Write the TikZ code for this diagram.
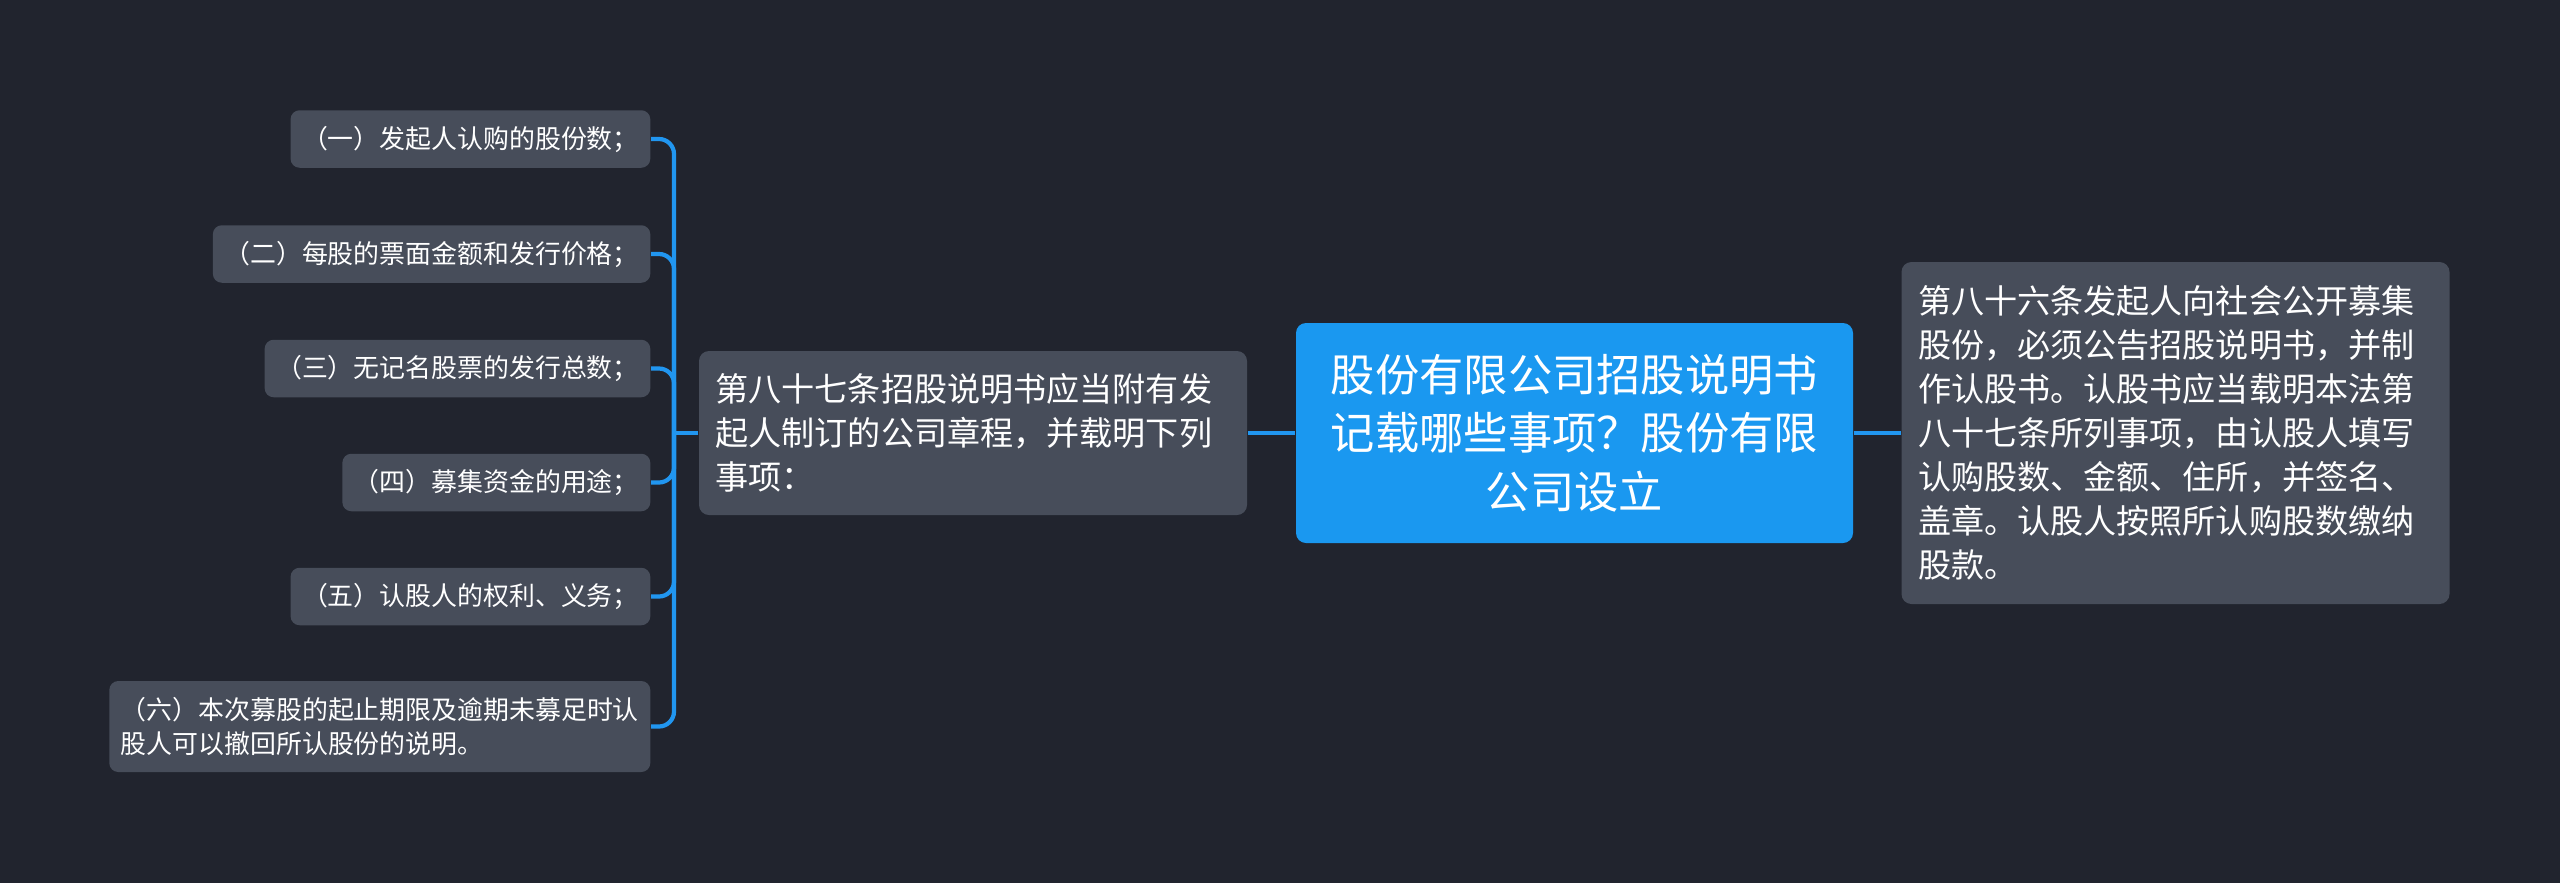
\documentclass[tikz,border=0pt]{standalone}
\usepackage{fontspec}
\newfontfamily\cjk{Noto Sans CJK SC}
\definecolor{bgdark}{HTML}{21242E}
\definecolor{boxgray}{HTML}{474D5A}
\definecolor{rootblue}{HTML}{1A98F0}
\definecolor{linkblue}{HTML}{2196F0}
\begin{document}
\begin{tikzpicture}[
    leaf/.style={fill=boxgray, rounded corners=0.09cm, text=white, anchor=east,
      font=\cjk\fontsize{7.37pt}{9.6pt}\selectfont, inner xsep=0.115cm,
      inner ysep=0pt, minimum height=0.575cm},
    topic/.style={fill=boxgray, rounded corners=0.1cm, text=white, align=left,
      font=\cjk\fontsize{9.42pt}{12.5pt}\selectfont, inner xsep=0.165cm,
      text width=5.15cm},
    link/.style={draw=linkblue, line width=1.2pt}
  ]
    \useasboundingbox (0, 0) rectangle (25.6, -8.83);
    \fill [bgdark] (0, 0) rectangle (25.6, -8.83);
    % centre and its two sides
    \node (root) [fill=rootblue, rounded corners=0.1cm, text=white, align=center,
      font=\cjk\fontsize{12.6pt}{16.6pt}\selectfont, text width=4.9cm,
      inner xsep=0.335cm, minimum height=2.2cm] at (15.745, -4.33)
      {股份有限公司招股说明书\\记载哪些事项？股份有限\\公司设立};
    \node (mid) [topic, minimum height=1.64cm] at (9.73, -4.33)
      {第八十七条招股说明书应当附有发\\起人制订的公司章程，并载明下列\\事项：};
    \node (right) [topic, minimum height=3.42cm] at (21.755, -4.33)
      {第八十六条发起人向社会公开募集\\股份，必须公告招股说明书，并制\\作认股书。认股书应当载明本法第\\八十七条所列事项，由认股人填写\\认购股数、金额、住所，并签名、\\盖章。认股人按照所认购股数缴纳\\股款。};
    % the six items
    \node (leaf1) [leaf] at (6.51, -1.39) {（一）发起人认购的股份数；};
    \node (leaf2) [leaf] at (6.51, -2.54) {（二）每股的票面金额和发行价格；};
    \node (leaf3) [leaf] at (6.51, -3.685) {（三）无记名股票的发行总数；};
    \node (leaf4) [leaf] at (6.51, -4.825) {（四）募集资金的用途；};
    \node (leaf5) [leaf] at (6.51, -5.965) {（五）认股人的权利、义务；};
    \node (leaf6) [leaf, align=left, text width=5.18cm, minimum height=0.91cm]
      at (6.51, -7.265)
      {（六）本次募股的起止期限及逾期未募足时认\\股人可以撤回所认股份的说明。};
    \coordinate (brace) at (6.74, -4.33);
    \draw [link] (mid.east) -- (root.west);
    \draw [link] (root.east) -- (right.west);
    \draw [link] (mid.west) -- (brace);
    \foreach \k in {1,...,6}
      \draw [link, rounded corners=0.15cm] (brace) |- (leaf\k.east);
  \end{tikzpicture}
\end{document}
